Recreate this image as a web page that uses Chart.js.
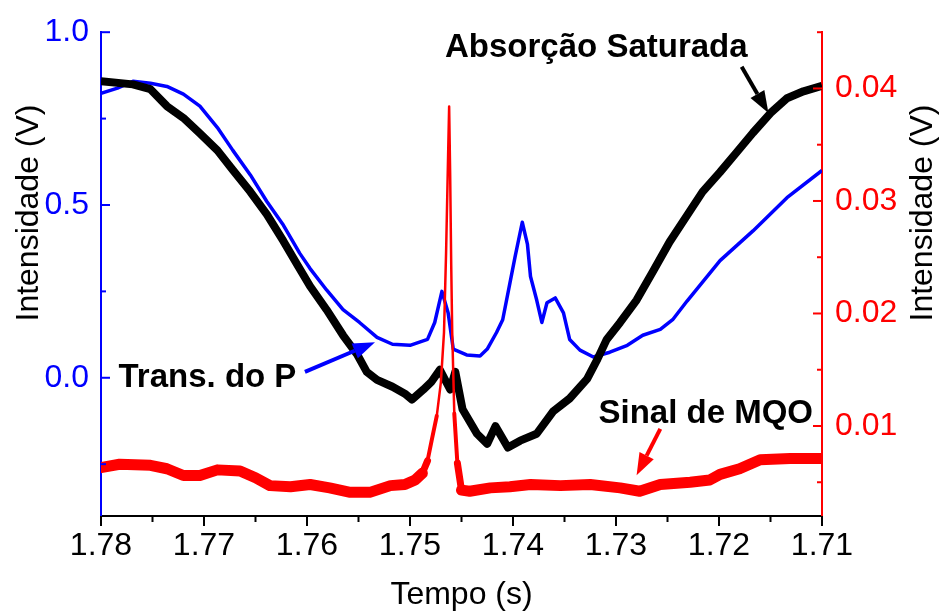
<!DOCTYPE html>
<html>
<head>
<meta charset="utf-8">
<script src="https://cdn.jsdelivr.net/npm/chart.js@4.4.1/dist/chart.umd.min.js"></script>
<style>
  html, body { margin: 0; padding: 0; background: #fff; }
  #wrap { width: 941px; height: 612px; }
</style>
</head>
<body>
<div id="wrap"><canvas id="chart" width="941" height="612"></canvas></div>
<script>
// Absorção saturada (black, left axis)
const tSat = [1.7800, 1.7769, 1.7752, 1.7736, 1.7720, 1.7704, 1.7687, 1.7672, 1.7655, 1.7639,
  1.7623, 1.7610, 1.7597, 1.7581, 1.7565, 1.7551, 1.7542, 1.7532, 1.7517, 1.7505,
  1.7498, 1.7487, 1.7479, 1.7471, 1.7461, 1.7456, 1.7449, 1.7435, 1.7425, 1.7417,
  1.7405, 1.7393, 1.7377, 1.7361, 1.7345, 1.7328, 1.7318, 1.7309, 1.7296, 1.7280,
  1.7264, 1.7248, 1.7231, 1.7216, 1.7199, 1.7183, 1.7167, 1.7150, 1.7134, 1.7118, 1.7100];
const vSat = [0.858, 0.849, 0.835, 0.786, 0.752, 0.707, 0.658, 0.601, 0.538, 0.473,
  0.396, 0.330, 0.265, 0.197, 0.123, 0.066, 0.017, -0.006, -0.026, -0.046,
  -0.063, -0.034, -0.011, 0.023, -0.034, 0.017, -0.091, -0.162, -0.191, -0.140,
  -0.202, -0.182, -0.162, -0.097, -0.060, -0.003, 0.054, 0.111, 0.160, 0.225,
  0.308, 0.393, 0.470, 0.538, 0.595, 0.652, 0.709, 0.766, 0.809, 0.829, 0.845];

// Transmissão da sonda (blue, left axis)
const tTrans = [1.7800, 1.7784, 1.7769, 1.7752, 1.7736, 1.7720, 1.7704, 1.7687, 1.7672, 1.7655,
  1.7639, 1.7623, 1.7607, 1.7597, 1.7581, 1.7565, 1.7549, 1.7532, 1.7517, 1.7500,
  1.7483, 1.7476, 1.7469, 1.7463, 1.7458, 1.7445, 1.7432, 1.7425, 1.7416, 1.7410,
  1.7403, 1.7398, 1.7391, 1.7386, 1.7383, 1.7377, 1.7372, 1.7367, 1.7359, 1.7351,
  1.7345, 1.7335, 1.7322, 1.7306, 1.7289, 1.7274, 1.7257, 1.7245, 1.7231, 1.7199,
  1.7167, 1.7134, 1.7100];
const vTrans = [0.823, 0.838, 0.858, 0.852, 0.843, 0.821, 0.786, 0.724, 0.658, 0.587,
  0.510, 0.442, 0.360, 0.316, 0.254, 0.197, 0.160, 0.117, 0.097, 0.094,
  0.111, 0.160, 0.250, 0.188, 0.083, 0.066, 0.063, 0.083, 0.131, 0.168,
  0.274, 0.350, 0.450, 0.387, 0.293, 0.225, 0.160, 0.217, 0.231, 0.188,
  0.111, 0.080, 0.060, 0.074, 0.094, 0.123, 0.140, 0.168, 0.222, 0.339,
  0.425, 0.521, 0.600];

// Sinal de MQO (red, right axis)
const tMqo = [1.7800, 1.7782, 1.7752, 1.7736, 1.7720, 1.7704, 1.7687, 1.7665, 1.7650, 1.7636,
  1.7616, 1.7597, 1.7578, 1.7558, 1.7539, 1.7519, 1.7505, 1.7495, 1.7488, 1.7483,
  1.7479, 1.7474, 1.7470, 1.7467, 1.7465, 1.7463, 1.7462, 1.7461, 1.7460, 1.7459,
  1.7457, 1.7454, 1.7450, 1.7442, 1.7422, 1.7403, 1.7383, 1.7354, 1.7325, 1.7296,
  1.7277, 1.7257, 1.7228, 1.7209, 1.7199, 1.7180, 1.7160, 1.7131, 1.7100];
const vMqo = [0.0063, 0.0066, 0.0065, 0.0062, 0.0056, 0.0056, 0.0061, 0.0060, 0.0054, 0.0047,
  0.0046, 0.0048, 0.0045, 0.0041, 0.0041, 0.0047, 0.0048, 0.0052, 0.0058, 0.0069,
  0.0087, 0.0109, 0.0139, 0.0183, 0.0253, 0.0341, 0.0384, 0.0323, 0.0244, 0.0183,
  0.0111, 0.0067, 0.0043, 0.0042, 0.0045, 0.0046, 0.0048, 0.0047, 0.0048, 0.0045,
  0.0042, 0.0048, 0.0050, 0.0052, 0.0057, 0.0062, 0.0070, 0.0071, 0.0071];

// tick values
const xTicks = [1.78, 1.77, 1.76, 1.75, 1.74, 1.73, 1.72, 1.71];
const xMinor = [1.775, 1.765, 1.755, 1.745, 1.735, 1.725, 1.715];
const leftTicks = [0.0, 0.5, 1.0];
const leftMinor = [-0.25, 0.25, 0.75];
const rightTicks = [0.01, 0.02, 0.03, 0.04];
const rightMinor = [0.005, 0.015, 0.025, 0.035, 0.045];

// labels anchored in data units (x: time, y: left axis)
const notes = [
  { text: 'Absorção Saturada', x: 1.7466, y: 0.929, from: [1.7178, 0.900], to: [1.7152, 0.766], color: '#000000' },
  { text: 'Trans. do P', x: 1.7783, y: -0.026, from: [1.7602, 0.017], to: [1.7534, 0.103], color: '#0000ff' },
  { text: 'Sinal de MQO', x: 1.7317, y: -0.131, from: [1.7257, -0.148], to: [1.7280, -0.282], color: '#ff0000' },
];

const FONT = '"Liberation Sans", Arial, sans-serif';
const pts = (ts, vs) => ts.map((t, i) => ({ x: t, y: vs[i] }));

// red trace is a thick noisy band except around the narrow resonance
const mqoWidth = c => {
  const m = Math.max(c.p0.parsed.y, c.p1.parsed.y);
  if (m > 0.012) return 2.5;
  if (m > 0.008) return 4;
  if (m > 0.0066 && c.p0.parsed.x < 1.749 && c.p1.parsed.x >= 1.7449) return 7;
  return 11;
};

const decor = {
  id: 'decor',
  afterDraw(chart) {
    const { ctx, chartArea: a, scales } = chart;
    const x = scales.x, yl = scales.yL, yr = scales.yR;
    ctx.save();
    ctx.lineWidth = 2;

    // x ticks point down
    ctx.strokeStyle = '#000';
    xTicks.forEach(v => { const p = x.getPixelForValue(v); ctx.beginPath(); ctx.moveTo(p, a.bottom); ctx.lineTo(p, a.bottom + 10); ctx.stroke(); });
    xMinor.forEach(v => { const p = x.getPixelForValue(v); ctx.beginPath(); ctx.moveTo(p, a.bottom); ctx.lineTo(p, a.bottom + 6); ctx.stroke(); });

    // left ticks point in
    ctx.strokeStyle = '#0000ff';
    leftTicks.forEach(v => { const p = yl.getPixelForValue(v); ctx.beginPath(); ctx.moveTo(a.left, p); ctx.lineTo(a.left + 9, p); ctx.stroke(); });
    leftMinor.forEach(v => { const p = yl.getPixelForValue(v); ctx.beginPath(); ctx.moveTo(a.left, p); ctx.lineTo(a.left + 5, p); ctx.stroke(); });

    // right ticks point in
    ctx.strokeStyle = '#ff0000';
    rightTicks.forEach(v => { const p = yr.getPixelForValue(v); ctx.beginPath(); ctx.moveTo(a.right, p); ctx.lineTo(a.right - 9, p); ctx.stroke(); });
    rightMinor.forEach(v => { const p = yr.getPixelForValue(v); ctx.beginPath(); ctx.moveTo(a.right, p); ctx.lineTo(a.right - 5, p); ctx.stroke(); });

    // axis titles
    ctx.fillStyle = '#000';
    ctx.font = '32px ' + FONT;
    ctx.textAlign = 'center';
    ctx.textBaseline = 'alphabetic';
    ctx.fillText('Tempo (s)', (a.left + a.right) / 2, 604);
    [[38, 'Intensidade (V)'], [932, 'Intensidade (V)']].forEach(([bx, txt]) => {
      ctx.save();
      ctx.translate(bx, 213);
      ctx.rotate(-Math.PI / 2);
      ctx.fillText(txt, 0, 0);
      ctx.restore();
    });

    // annotations with arrows
    ctx.font = 'bold 33px ' + FONT;
    ctx.textAlign = 'left';
    notes.forEach(n => {
      ctx.fillStyle = '#000';
      ctx.fillText(n.text, x.getPixelForValue(n.x), yl.getPixelForValue(n.y));
      const x0 = x.getPixelForValue(n.from[0]), y0 = yl.getPixelForValue(n.from[1]);
      const x1 = x.getPixelForValue(n.to[0]), y1 = yl.getPixelForValue(n.to[1]);
      const ang = Math.atan2(y1 - y0, x1 - x0);
      const hl = 22, hw = 8;
      const bxp = x1 - hl * Math.cos(ang), byp = y1 - hl * Math.sin(ang);
      ctx.strokeStyle = n.color;
      ctx.fillStyle = n.color;
      ctx.lineWidth = 4;
      ctx.beginPath(); ctx.moveTo(x0, y0); ctx.lineTo(bxp, byp); ctx.stroke();
      ctx.beginPath();
      ctx.moveTo(x1, y1);
      ctx.lineTo(bxp + hw * Math.sin(ang), byp - hw * Math.cos(ang));
      ctx.lineTo(bxp - hw * Math.sin(ang), byp + hw * Math.cos(ang));
      ctx.closePath();
      ctx.fill();
    });
    ctx.restore();
  }
};

new Chart(document.getElementById('chart'), {
  type: 'line',
  data: {
    datasets: [
      {
        label: 'Sinal de MQO',
        data: pts(tMqo, vMqo),
        yAxisID: 'yR',
        borderColor: '#ff0000',
        borderWidth: 11,
        borderCapStyle: 'round',
        segment: { borderWidth: mqoWidth },
      },
      {
        label: 'Absorção Saturada',
        data: pts(tSat, vSat),
        yAxisID: 'yL',
        borderColor: '#000000',
        borderWidth: 8,
      },
      {
        label: 'Trans. do P',
        data: pts(tTrans, vTrans),
        yAxisID: 'yL',
        borderColor: '#0000ff',
        borderWidth: 3.5,
      },
    ],
  },
  options: {
    responsive: false,
    animation: false,
    devicePixelRatio: 1,
    layout: { padding: { top: 25, left: 0, right: 0, bottom: 0 } },
    elements: {
      point: { radius: 0 },
      line: { tension: 0, borderJoinStyle: 'round', borderCapStyle: 'butt' },
    },
    plugins: { legend: { display: false }, tooltip: { enabled: false } },
    scales: {
      x: {
        type: 'linear',
        reverse: true,
        min: 1.71,
        max: 1.78,
        grid: { display: false, drawTicks: false },
        border: { display: true, color: '#000', width: 2 },
        afterBuildTicks: s => { s.ticks = xTicks.map(v => ({ value: v })); },
        afterFit: s => { s.height = 96; },
        ticks: {
          autoSkip: false, maxRotation: 0, padding: 11, color: '#000',
          font: { family: FONT, size: 32 },
          callback: v => v.toFixed(2),
        },
      },
      yL: {
        type: 'linear',
        position: 'left',
        min: -0.4,
        max: 1.0,
        grid: { display: false, drawTicks: false },
        border: { display: true, color: '#0000ff', width: 2 },
        afterBuildTicks: s => { s.ticks = leftTicks.map(v => ({ value: v })); },
        afterFit: s => { s.width = 101; },
        ticks: {
          padding: 12, color: '#0000ff',
          font: { family: FONT, size: 32 },
          callback: v => v.toFixed(1),
        },
      },
      yR: {
        type: 'linear',
        position: 'right',
        min: 0.002,
        max: 0.045,
        grid: { display: false, drawTicks: false },
        border: { display: true, color: '#ff0000', width: 2 },
        afterBuildTicks: s => { s.ticks = rightTicks.map(v => ({ value: v })); },
        afterFit: s => { s.width = 119; },
        ticks: {
          padding: 13, color: '#ff0000',
          font: { family: FONT, size: 32 },
          callback: v => v.toFixed(2),
        },
      },
    },
  },
  plugins: [decor],
});
</script>
</body>
</html>
